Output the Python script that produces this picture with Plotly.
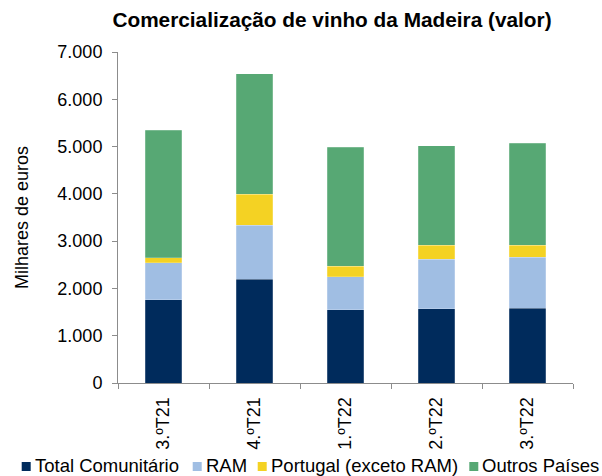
import plotly.graph_objects as go

categories = ["3.ºT21", "4.ºT21", "1.ºT22", "2.ºT22", "3.ºT22"]
total_comunitario = [1760, 2190, 1550, 1575, 1580]
ram = [785, 1150, 695, 1045, 1075]
portugal_exceto_ram = [100, 655, 225, 290, 255]
outros_paises = [2700, 2550, 2515, 2110, 2165]

series_names = ["Total Comunitário", "RAM", "Portugal (exceto RAM)", "Outros Países"]
series_values = [total_comunitario, ram, portugal_exceto_ram, outros_paises]
colors = ["#002B5C", "#A0BEE3", "#F4D223", "#57A874"]

y_ticks = [0, 1000, 2000, 3000, 4000, 5000, 6000, 7000]

W, H = 602, 476
L, R, T, B = 118, 29, 52, 93
PW, PH = W - L - R, H - T - B

def px_x(px):
    return (px - L) / PW

def px_y(py):
    return (H - B - py) / PH

FONT = "Liberation Sans, Arial, sans-serif"

fig = go.Figure()
for name, vals, col in zip(series_names, series_values, colors):
    fig.add_trace(go.Bar(
        x=categories, y=vals, name=name,
        marker=dict(color=col, line=dict(color="rgba(255,255,255,0.35)", width=0.6)),
        showlegend=False,
    ))

# custom single-row legend (square + text)
legend_sq_left = [21.7, 192.7, 257.7, 469.3]
sq = 9
for name, col, x0 in zip(series_names, colors, legend_sq_left):
    fig.add_shape(type="rect", xref="paper", yref="paper",
                  x0=px_x(x0), x1=px_x(x0 + sq), y0=px_y(471), y1=px_y(462),
                  fillcolor=col, line=dict(width=0))
    fig.add_annotation(xref="paper", yref="paper", x=px_x(x0 + sq + 2), y=px_y(465),
                       text=name, showarrow=False, xanchor="left", yanchor="middle",
                       font=dict(family=FONT, size=18.5, color="#000000"))

fig.update_layout(
    width=W, height=H,
    margin=dict(l=L, r=R, t=T, b=B, autoexpand=False),
    barmode="stack", bargap=0.6,
    plot_bgcolor="white", paper_bgcolor="white",
    separators=",.",
    font=dict(family=FONT, size=18, color="#000000"),
    title=dict(text="<b>Comercialização de vinho da Madeira (valor)</b>",
               xref="container", x=332 / W, xanchor="center",
               yref="container", y=1 - 20 / H, yanchor="middle",
               font=dict(family=FONT, size=20.8, color="#000000")),
    showlegend=False,
)
fig.update_yaxes(
    range=[0, 7000], tickvals=y_ticks, tickformat=",d",
    showgrid=False, zeroline=False, automargin=False,
    showline=True, linecolor="#8C8C8C", linewidth=1,
    ticks="outside", ticklen=5, tickcolor="#8C8C8C",
    ticklabelstandoff=6,
    title=dict(text="Milhares de euros", standoff=24,
               font=dict(family=FONT, size=18, color="#000000")),
)
fig.update_xaxes(
    type="category", tickangle=-90, automargin=False,
    showgrid=False, showline=True, linecolor="#8C8C8C", linewidth=1,
    ticks="outside", ticklen=5, tickcolor="#8C8C8C", tickson="boundaries",
    ticklabelstandoff=6,
)

fig.write_html("out.html", config={"displayModeBar": False},
               post_script="document.body.style.margin='0';")
